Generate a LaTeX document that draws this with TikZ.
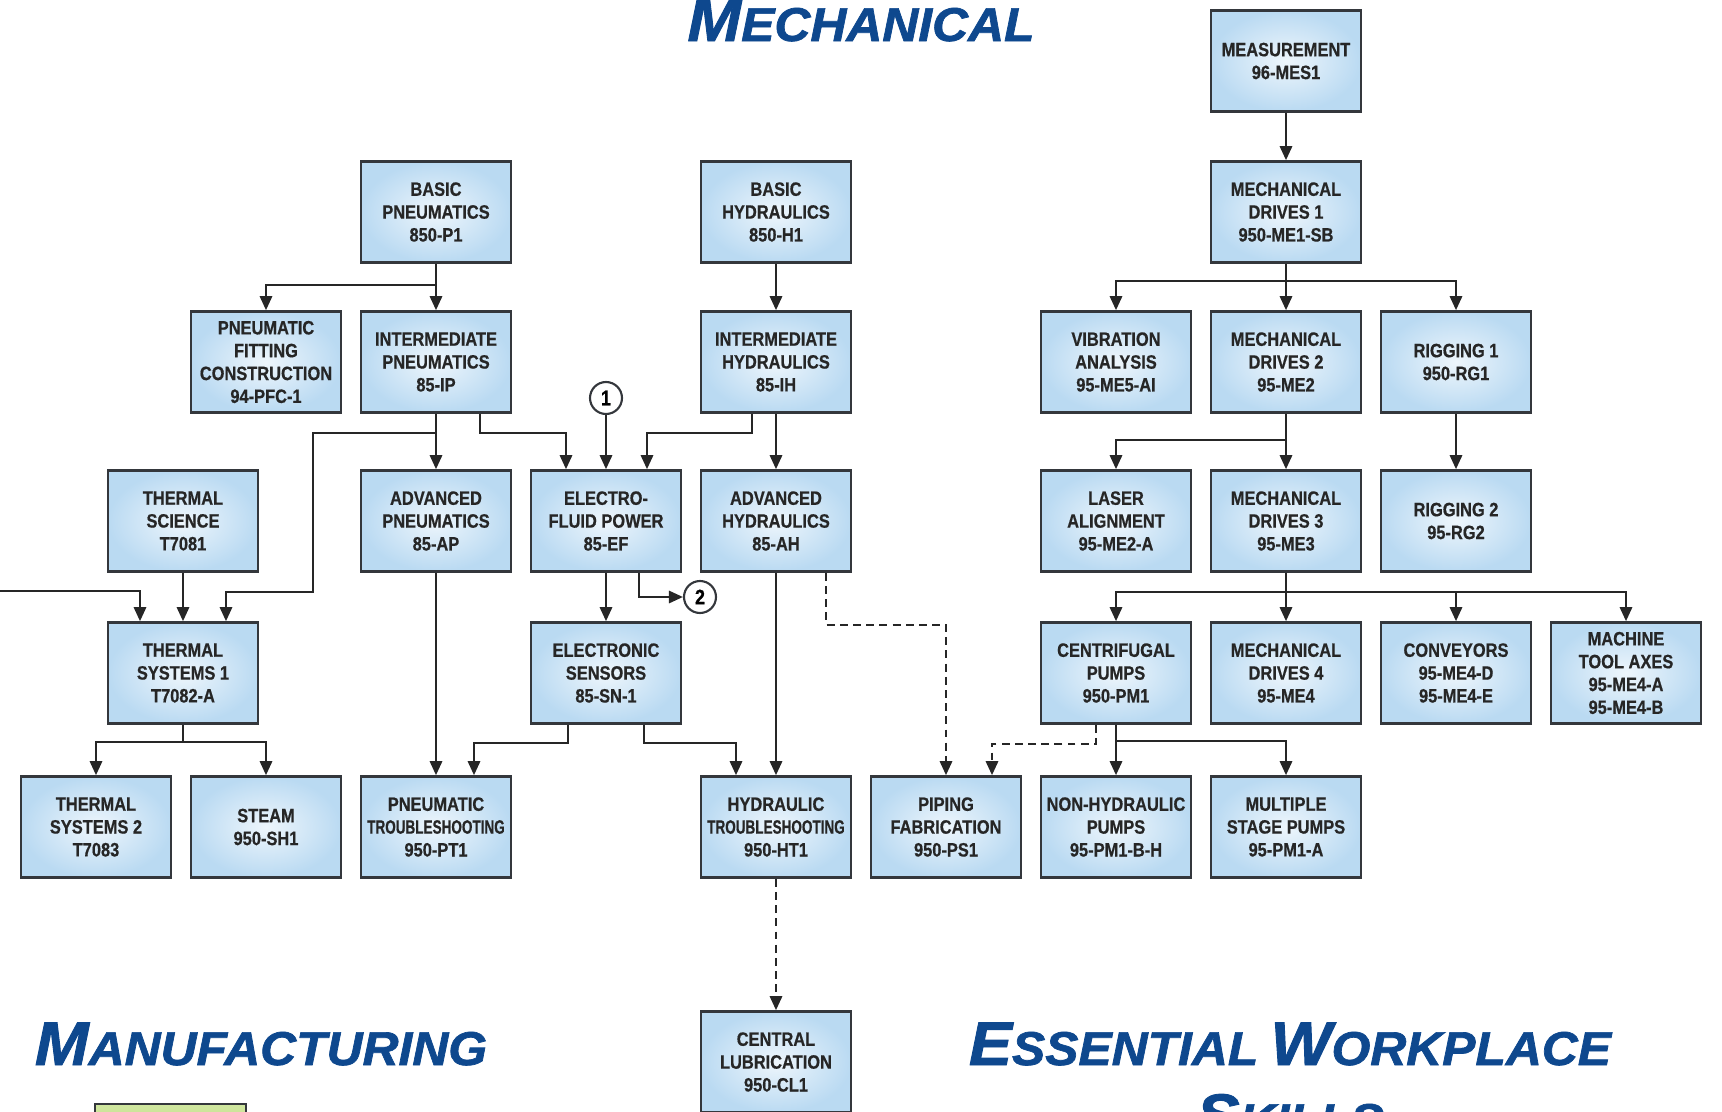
\documentclass[tikz,border=0pt]{standalone}
\usepackage{fontspec}
\usepackage{tikz}
\usetikzlibrary{calc,arrows.meta}
\newfontfamily\boxfont[FakeStretch=0.85,FakeBold=0.6]{Liberation Sans Bold}
\newfontfamily\tightfont[FakeStretch=0.7,FakeBold=0.6]{Liberation Sans Bold}
\newfontfamily\headfont[FakeStretch=1.05,FakeBold=1.5]{Liberation Sans Bold Italic}
\definecolor{boxblue}{RGB}{186,218,242}
\definecolor{boxline}{RGB}{52,55,60}
\definecolor{headblue}{RGB}{14,72,142}
\definecolor{mfggreen}{RGB}{176,214,96}
\newcommand{\bigsc}[2]{{\fontsize{35}{35}\selectfont #1}{\fontsize{27}{27}\selectfont #2}}
\tikzset{
  course/.style={draw=boxline, line width=1.5pt, inner color=white!75!boxblue, outer color=boxblue,
    minimum width=3cm, minimum height=2.02cm, align=center, inner sep=1pt,
    font=\boxfont\fontsize{11}{13}\selectfont, text=black!85},
  link/.style={line width=1.3pt, draw=black!85, -{Triangle[length=8pt,width=7pt]}},
  soft/.style={link, dash pattern=on 4.5pt off 3pt},
  numbered/.style={circle, draw=boxline, line width=1.2pt, fill=white, minimum size=0.64cm,
    inner sep=0pt, font=\boxfont\fontsize{12}{12}\selectfont},
  heading/.style={text=headblue, font=\headfont, anchor=base}
}
\begin{document}
\begin{tikzpicture}[x=0.02cm, y=-0.02cm]
        \useasboundingbox (0,0) rectangle (1722,1112);
        \node[heading] (mech) at (861,41) {\bigsc{M}{ECHANICAL}};
        \node[heading] (mfg) at (261,1065) {\bigsc{M}{ANUFACTURING}};
        \node[heading] (ews) at (1290,1065) {\bigsc{E}{SSENTIAL}\hspace{7pt}\bigsc{W}{ORKPLACE}};
        \node[heading] (skl) at (1290,1137) {\bigsc{S}{KILLS}};
        \draw[boxline, line width=1.5pt, top color=mfggreen!60!white, bottom color=mfggreen] (95,1104) rectangle (246,1205);

        \node[course] (mes) at (1286,61) {MEASUREMENT\\96-MES1};
        \node[course] (bp) at (436,212) {BASIC\\PNEUMATICS\\850-P1};
        \node[course] (bh) at (776,212) {BASIC\\HYDRAULICS\\850-H1};
        \node[course] (md1) at (1286,212) {MECHANICAL\\DRIVES 1\\950-ME1-SB};

        \node[course] (pfc) at (266,362) {PNEUMATIC\\FITTING\\CONSTRUCTION\\94-PFC-1};
        \node[course] (ip) at (436,362) {INTERMEDIATE\\PNEUMATICS\\85-IP};
        \node[course] (ih) at (776,362) {INTERMEDIATE\\HYDRAULICS\\85-IH};
        \node[course] (va) at (1116,362) {VIBRATION\\ANALYSIS\\95-ME5-AI};
        \node[course] (md2) at (1286,362) {MECHANICAL\\DRIVES 2\\95-ME2};
        \node[course] (rg1) at (1456,362) {RIGGING 1\\950-RG1};

        \node[course] (tsc) at (183,521) {THERMAL\\SCIENCE\\T7081};
        \node[course] (ap) at (436,521) {ADVANCED\\PNEUMATICS\\85-AP};
        \node[course] (ef) at (606,521) {ELECTRO-\\FLUID POWER\\85-EF};
        \node[course] (ah) at (776,521) {ADVANCED\\HYDRAULICS\\85-AH};
        \node[course] (la) at (1116,521) {LASER\\ALIGNMENT\\95-ME2-A};
        \node[course] (md3) at (1286,521) {MECHANICAL\\DRIVES 3\\95-ME3};
        \node[course] (rg2) at (1456,521) {RIGGING 2\\95-RG2};

        \node[course] (ts1) at (183,673) {THERMAL\\SYSTEMS 1\\T7082-A};
        \node[course] (sn) at (606,673) {ELECTRONIC\\SENSORS\\85-SN-1};
        \node[course] (cp) at (1116,673) {CENTRIFUGAL\\PUMPS\\950-PM1};
        \node[course] (md4) at (1286,673) {MECHANICAL\\DRIVES 4\\95-ME4};
        \node[course] (cv) at (1456,673) {CONVEYORS\\95-ME4-D\\95-ME4-E};
        \node[course] (mt) at (1626,673) {MACHINE\\TOOL AXES\\95-ME4-A\\95-ME4-B};

        \node[course] (ts2) at (96,827) {THERMAL\\SYSTEMS 2\\T7083};
        \node[course] (st) at (266,827) {STEAM\\950-SH1};
        \node[course] (pt) at (436,827) {PNEUMATIC\\{\tightfont TROUBLESHOOTING}\\950-PT1};
        \node[course] (ht) at (776,827) {HYDRAULIC\\{\tightfont TROUBLESHOOTING}\\950-HT1};
        \node[course] (ps) at (946,827) {PIPING\\FABRICATION\\950-PS1};
        \node[course] (nh) at (1116,827) {NON-HYDRAULIC\\PUMPS\\95-PM1-B-H};
        \node[course] (ms) at (1286,827) {MULTIPLE\\STAGE PUMPS\\95-PM1-A};

        \node[course] (cl) at (776,1062) {CENTRAL\\LUBRICATION\\950-CL1};

        \node[numbered] (n1) at (606,398) {1};
        \node[numbered] (n2) at (700,597) {2};
        \coordinate (offpage) at (0,591);

        \draw[link] (bp) -- (ip);
        \draw[link] (bp.south) -- ++(0,21) -| (pfc.north);
        \draw[link] (bh) -- (ih);
        \draw[link] (ip) -- (ap);
        \draw[link] (ip.south) -- ++(0,19) -| ++(-123,159) -| ($(ts1.north)+(43,0)$);
        \draw[link] ($(ip.south)+(44,0)$) -- ++(0,19) -| ($(ef.north)+(-40,0)$);
        \draw[link] (n1) -- (ef);
        \draw[link] ($(ih.south)+(-24,0)$) -- ++(0,19) -| ($(ef.north)+(41,0)$);
        \draw[link] (ih) -- (ah);
        \draw[link] (offpage) -| ($(ts1.north)+(-43,0)$);
        \draw[link] (tsc) -- (ts1);
        \draw[link] (ts1.south) -- ++(0,17) -| (ts2.north);
        \draw[link] (ts1.south) -- ++(0,17) -| (st.north);
        \draw[link] (ap) -- (pt);
        \draw[link] (ef) -- (sn);
        \draw[link] ($(ef.south)+(33,0)$) |- (n2.west);
        \draw[link] ($(sn.south)+(-38,0)$) -- ++(0,18) -| ($(pt.north)+(38,0)$);
        \draw[link] ($(sn.south)+(38,0)$) -- ++(0,18) -| ($(ht.north)+(-40,0)$);
        \draw[link] (ah) -- (ht);
        \draw[soft] ($(ah.south)+(50,0)$) -- ++(0,52) -| (ps.north);
        \draw[soft] ($(cp.south)+(-20,0)$) -- ++(0,19) -| ($(ps.north)+(46,0)$);
        \draw[link] (cp) -- (nh);
        \draw[link] (cp.south) -- ++(0,16) -| (ms.north);
        \draw[soft] (ht) -- (cl);

        \draw[link] (mes) -- (md1);
        \draw[link] (md1) -- (md2);
        \draw[link] (md1.south) -- ++(0,17) -| (va.north);
        \draw[link] (md1.south) -- ++(0,17) -| (rg1.north);
        \draw[link] (md2) -- (md3);
        \draw[link] (md2.south) -- ++(0,26) -| (la.north);
        \draw[link] (rg1) -- (rg2);
        \draw[link] (md3) -- (md4);
        \draw[link] (md3.south) -- ++(0,19) -| (cp.north);
        \draw[link] (md3.south) -- ++(0,19) -| (cv.north);
        \draw[link] (md3.south) -- ++(0,19) -| (mt.north);
    \end{tikzpicture}
\end{document}
